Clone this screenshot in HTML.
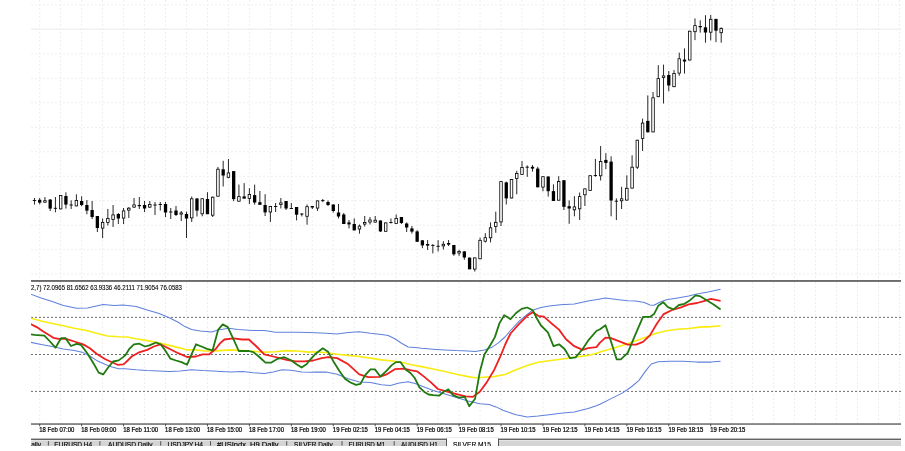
<!DOCTYPE html>
<html><head><meta charset="utf-8"><title>SILVER,M15</title>
<style>html,body{margin:0;padding:0;background:#fff;overflow:hidden}svg{display:block;will-change:transform}text{font-family:"Liberation Sans",sans-serif}</style>
</head><body>
<svg width="905" height="451" viewBox="0 0 905 451" font-family="Liberation Sans, sans-serif">
<defs><clipPath id="cp"><rect x="31" y="282" width="870" height="141"/></clipPath>
<clipPath id="cptab"><rect x="31" y="440" width="870" height="6"/></clipPath></defs>
<path d="M39.7 0V278M39.7 282V423M60.67 0V278M60.67 282V423M81.64 0V278M81.64 282V423M102.61 0V278M102.61 282V423M123.58 0V278M123.58 282V423M144.55 0V278M144.55 282V423M165.52 0V278M165.52 282V423M186.49 0V278M186.49 282V423M207.46 0V278M207.46 282V423M228.43 0V278M228.43 282V423M249.39 0V278M249.39 282V423M270.36 0V278M270.36 282V423M291.33 0V278M291.33 282V423M312.3 0V278M312.3 282V423M333.27 0V278M333.27 282V423M354.24 0V278M354.24 282V423M375.21 0V278M375.21 282V423M396.18 0V278M396.18 282V423M417.15 0V278M417.15 282V423M438.12 0V278M438.12 282V423M459.09 0V278M459.09 282V423M480.06 0V278M480.06 282V423M501.02 0V278M501.02 282V423M521.99 0V278M521.99 282V423M542.96 0V278M542.96 282V423M563.93 0V278M563.93 282V423M584.9 0V278M584.9 282V423M605.87 0V278M605.87 282V423M626.84 0V278M626.84 282V423M647.81 0V278M647.81 282V423M668.78 0V278M668.78 282V423M689.75 0V278M689.75 282V423M710.72 0V278M710.72 282V423M731.69 0V278M731.69 282V423M752.66 0V278M752.66 282V423M773.62 0V278M773.62 282V423M794.59 0V278M794.59 282V423M815.56 0V278M815.56 282V423M836.53 0V278M836.53 282V423M857.5 0V278M857.5 282V423M878.47 0V278M878.47 282V423M899.44 0V278M899.44 282V423M31 4.95H901M31 29.42H901M31 53.89H901M31 78.36H901M31 102.83H901M31 127.3H901M31 151.77H901M31 176.24H901M31 200.71H901M31 225.18H901M31 249.65H901M31 274.12H901" stroke="#eeeeee" stroke-width="1" stroke-dasharray="2 2" fill="none"/>
<path d="M31 29.1H901" stroke="#f0f0f0" stroke-width="1.4"/>
<path d="M34.46 198V204.6M39.7 198V204.3M44.94 197V202.6M50.19 199V211M55.43 197V212.3M60.67 195V209.3M65.91 192.3V208.6M71.16 200.3V209M76.4 194.3V206.3M81.64 196.3V206.3M86.88 200V214.3M92.13 201V219M97.37 216V232M102.61 218.5V238M107.85 209V225.5M113.09 205V227M118.34 213V224M123.58 208V224M128.82 207V218M134.06 198V208M139.31 197V209M144.55 201V212M149.79 201V208M155.03 202V215M160.28 202V210.5M165.52 202V217M170.76 208V219M176 206V216M181.24 211V221M186.49 211.6V238M191.73 196.5V222M196.97 198V216.5M202.21 198.3V216.3M207.46 192.2V214.2M212.7 196.5V217M217.94 167V196.6M223.18 160.8V186.5M228.43 159V178.3M233.67 171V201.2M238.91 184.6V201.6M244.15 183.1V198.6M249.39 188.2V204M254.64 184.6V204.6M259.88 191V204.8M265.12 194.2V216M270.36 206V222M275.61 203V212M280.85 198V208.5M286.09 201V210M291.33 203V208.5M296.57 207V220.4M301.82 213V216.4M307.06 204.5V224.7M312.3 206V209M317.54 200.5V211M322.79 199V202.2M328.03 200.5V206M333.27 204.5V212.5M338.51 204V218.4M343.76 213V224M349 220V228.4M354.24 218.4V230.4M359.48 224.5V233.7M364.72 216V226.5M369.97 217V224.5M375.21 216V222.6M380.45 220.5V232M385.69 222.5V231.7M390.94 218.5V223.5M396.18 214.5V224M401.42 217V224M406.66 222.5V232M411.91 226V233.6M417.15 230.2V241.8M422.39 240.3V248.2M427.63 240V250M432.87 244.2V253.4M438.12 240.2V251.5M443.36 241.2V249.5M448.6 240V246M453.84 245V255.8M459.09 249.8V255.8M464.33 251.2V259.8M469.57 257.6V269.3M474.81 257.5V271.6M480.06 237.7V259.2M485.3 233.2V242.5M490.54 222.4V242.4M495.78 211.7V232.8M501.02 181.2V226M506.27 181.6V204.5M511.51 179.1V198.4M516.75 170.8V194.3M521.99 161.1V175M527.24 165.4V176.9M532.48 165V171.6M537.72 166.8V187.3M542.96 176.3V191.3M548.21 176.5V196.6M553.45 184.3V201M558.69 176.2V200.6M563.93 180.2V210M569.17 200.4V223.8M574.42 196.2V216.3M579.66 192.5V220M584.9 188.5V206M590.14 175.3V190.8M595.39 158.9V176.8M600.63 146V180.5M605.87 153.2V169.1M611.11 156.3V216.3M616.36 198.4V220.1M621.6 186.8V209M626.84 175.3V200.5M632.08 155.3V188.5M637.32 139.8V169M642.57 118.6V151M647.81 95.4V132.3M653.05 92V132.3M658.29 65.2V97.1M663.54 64.6V103.5M668.78 71V91.3M674.02 70.1V87.1M679.26 52.6V75.7M684.51 48.4V73.6M689.75 30.8V60.4M694.99 18.4V40.1M700.23 20.3V32.6M705.47 15.2V42.7M710.72 14.9V40.4M715.96 18.9V42.2M721.2 27.3V42.7" stroke="#000" stroke-width="0.85" fill="none"/>
<path d="M32.81 200.5H36.11M53.78 208.3H57.08M69.51 205H72.81M153.38 205H156.68M158.63 204.5H161.93M169.11 212H172.41M273.96 206.5H277.26M289.68 208.5H292.98M300.17 214.1H303.47M321.14 200.6H324.44M389.29 222.5H392.59M431.22 245.4H434.52M436.47 246.3H439.77M525.59 167.2H528.89M593.74 175.5H597.04M614.71 201.2H618.01" stroke="#000" stroke-width="0.9" fill="none"/>
<g fill="#000"><rect x="38.05" y="199.8" width="3.3" height="2.8"/><rect x="48.54" y="199.6" width="3.3" height="9"/><rect x="64.26" y="196" width="3.3" height="8.6"/><rect x="79.99" y="201" width="3.3" height="4"/><rect x="85.23" y="205" width="3.3" height="5.6"/><rect x="90.48" y="210" width="3.3" height="7"/><rect x="95.72" y="216" width="3.3" height="12"/><rect x="116.69" y="214" width="3.3" height="4.5"/><rect x="137.66" y="205" width="3.3" height="1.2"/><rect x="142.9" y="205" width="3.3" height="3.5"/><rect x="163.87" y="204" width="3.3" height="8.5"/><rect x="174.35" y="210.5" width="3.3" height="4.5"/><rect x="184.84" y="214" width="3.3" height="4.5"/><rect x="195.32" y="198.5" width="3.3" height="12.1"/><rect x="205.81" y="199" width="3.3" height="15.2"/><rect x="221.53" y="169.3" width="3.3" height="6.2"/><rect x="232.02" y="171.1" width="3.3" height="28"/><rect x="242.5" y="196.4" width="3.3" height="2.2"/><rect x="252.99" y="195.1" width="3.3" height="7.4"/><rect x="258.23" y="202.2" width="3.3" height="2.6"/><rect x="263.47" y="205" width="3.3" height="7.4"/><rect x="284.44" y="201" width="3.3" height="7.5"/><rect x="294.93" y="207" width="3.3" height="7.7"/><rect x="310.65" y="206" width="3.3" height="1.5"/><rect x="326.38" y="202" width="3.3" height="3"/><rect x="331.62" y="204.5" width="3.3" height="6.5"/><rect x="336.86" y="212.5" width="3.3" height="4"/><rect x="342.11" y="214.5" width="3.3" height="9.5"/><rect x="347.35" y="222.4" width="3.3" height="2"/><rect x="352.59" y="224" width="3.3" height="6.4"/><rect x="378.8" y="220.5" width="3.3" height="10.9"/><rect x="399.77" y="217" width="3.3" height="6"/><rect x="405.01" y="223.5" width="3.3" height="4"/><rect x="410.26" y="228.4" width="3.3" height="3.2"/><rect x="415.5" y="231.4" width="3.3" height="10.4"/><rect x="420.74" y="240.3" width="3.3" height="5.1"/><rect x="425.98" y="244" width="3.3" height="1.6"/><rect x="446.95" y="243" width="3.3" height="1.6"/><rect x="452.19" y="245" width="3.3" height="9.3"/><rect x="462.68" y="251.4" width="3.3" height="6.1"/><rect x="467.92" y="257.6" width="3.3" height="11.7"/><rect x="504.62" y="182.4" width="3.3" height="16"/><rect x="530.83" y="166.8" width="3.3" height="1.8"/><rect x="536.07" y="168.6" width="3.3" height="18.7"/><rect x="546.56" y="176.5" width="3.3" height="14.7"/><rect x="551.8" y="191.1" width="3.3" height="9.9"/><rect x="562.28" y="180.2" width="3.3" height="26.6"/><rect x="567.52" y="206.2" width="3.3" height="2.3"/><rect x="604.22" y="159.9" width="3.3" height="3"/><rect x="609.46" y="161.6" width="3.3" height="38.9"/><rect x="646.16" y="120.9" width="3.3" height="11.4"/><rect x="667.13" y="75" width="3.3" height="10.5"/><rect x="682.86" y="59.6" width="3.3" height="1.9"/><rect x="698.58" y="26" width="3.3" height="1.3"/><rect x="703.82" y="27.3" width="3.3" height="5.2"/><rect x="714.31" y="18.9" width="3.3" height="11.8"/></g>
<g fill="#fff" stroke="#000" stroke-width="0.8"><rect x="43.69" y="200.7" width="2.5" height="1.5"/><rect x="59.42" y="195.4" width="2.5" height="13.5"/><rect x="75.15" y="200.4" width="2.5" height="5.5"/><rect x="101.36" y="222.4" width="2.5" height="5.7"/><rect x="106.6" y="218.4" width="2.5" height="4.2"/><rect x="111.84" y="214.9" width="2.5" height="4.7"/><rect x="122.33" y="210.9" width="2.5" height="7.2"/><rect x="127.57" y="208.2" width="2.5" height="1.9"/><rect x="132.81" y="204.9" width="2.5" height="2.2"/><rect x="148.54" y="204.4" width="2.5" height="2.7"/><rect x="179.99" y="212.9" width="2.5" height="1.2"/><rect x="190.48" y="198.8" width="2.5" height="19.1"/><rect x="200.96" y="198.7" width="2.5" height="15.1"/><rect x="211.45" y="197.2" width="2.5" height="18"/><rect x="216.69" y="169.2" width="2.5" height="27"/><rect x="227.18" y="172.9" width="2.5" height="4.4"/><rect x="237.66" y="196.6" width="2.5" height="4.6"/><rect x="248.14" y="194.4" width="2.5" height="4.2"/><rect x="269.11" y="206.4" width="2.5" height="5.6"/><rect x="279.6" y="202.9" width="2.5" height="1.7"/><rect x="305.81" y="206.7" width="2.5" height="9.6"/><rect x="316.29" y="200.9" width="2.5" height="7.2"/><rect x="358.23" y="226.1" width="2.5" height="2.9"/><rect x="363.47" y="222.4" width="2.5" height="1.7"/><rect x="368.72" y="220" width="2.5" height="2"/><rect x="373.96" y="220.2" width="2.5" height="1.9"/><rect x="384.44" y="222.9" width="2.5" height="8.4"/><rect x="394.93" y="218.4" width="2.5" height="5.2"/><rect x="442.11" y="244.3" width="2.5" height="1.6"/><rect x="457.84" y="251.4" width="2.5" height="1.6"/><rect x="473.56" y="257.9" width="2.5" height="11.2"/><rect x="478.81" y="240.3" width="2.5" height="18.5"/><rect x="484.05" y="237.7" width="2.5" height="3.5"/><rect x="489.29" y="227.8" width="2.5" height="10"/><rect x="494.53" y="222.3" width="2.5" height="4.1"/><rect x="499.77" y="181.6" width="2.5" height="40.3"/><rect x="510.26" y="179.5" width="2.5" height="18.5"/><rect x="515.5" y="173.5" width="2.5" height="5"/><rect x="520.74" y="167.4" width="2.5" height="7.2"/><rect x="541.71" y="176.7" width="2.5" height="10.4"/><rect x="557.44" y="181.5" width="2.5" height="18.7"/><rect x="573.17" y="206.9" width="2.5" height="2.9"/><rect x="578.41" y="196.6" width="2.5" height="12.2"/><rect x="583.65" y="188.9" width="2.5" height="5.9"/><rect x="588.89" y="175.7" width="2.5" height="14.7"/><rect x="599.38" y="161.5" width="2.5" height="14.3"/><rect x="620.35" y="198.8" width="2.5" height="2"/><rect x="625.59" y="188.3" width="2.5" height="11.8"/><rect x="630.83" y="167.2" width="2.5" height="20.9"/><rect x="636.07" y="140.2" width="2.5" height="27"/><rect x="641.32" y="123.1" width="2.5" height="15.4"/><rect x="651.8" y="97.8" width="2.5" height="34.1"/><rect x="657.04" y="78.6" width="2.5" height="18.1"/><rect x="662.29" y="75.9" width="2.5" height="1.6"/><rect x="672.77" y="73.4" width="2.5" height="13.3"/><rect x="678.01" y="58.8" width="2.5" height="14.3"/><rect x="688.5" y="31.2" width="2.5" height="28.8"/><rect x="693.74" y="25.6" width="2.5" height="6.1"/><rect x="709.47" y="19.3" width="2.5" height="12.9"/><rect x="719.95" y="28.4" width="2.5" height="4.3"/></g>
<rect x="31" y="280" width="870" height="1.9" fill="#6b6b6b"/>
<path d="M31 317.4H901M31 354.5H901M31 391.4H901" stroke="#6e6e6e" stroke-width="1" stroke-dasharray="2 2" fill="none"/>
<g clip-path="url(#cp)">
<path d="M30 293.9 41.1 297.9 52.2 301.6 63.3 305.4 76.6 308.3 87.6 308.1 96.5 306.1 103.2 304.5 114.3 305.4 123.1 305 136.1 306.6 147.2 310 158.3 313.3 169.3 317.7 178.2 322.2 184.9 326.6 191.5 329.5 200.4 331 211.5 332.1 218.1 329.9 228.9 328.2 237.7 329.5 253.3 330.4 264.3 330.6 275.4 332.2 286.5 332.2 297.6 332.2 308.7 332.6 326.1 333.3 337.2 333.9 348.3 332.6 359.3 331.7 370.4 333.3 381.5 334.4 388.2 335.5 394.8 338.8 401.5 343.2 408.1 347 415 347.4 421.6 348.3 433.3 349.2 444.9 349.9 456.5 350.6 468.1 351 475.1 351.5 484.4 349.9 491.4 347.6 498.4 342.9 505 337 510.5 330.5 518.9 321.3 527.2 314.4 532.7 310.2 541 307.5 549.3 306.1 560.4 304.7 574.3 304.1 588.1 301.1 600 298.9 605.5 298 616.6 299.4 627.7 300.8 636 301.1 644.3 302.5 649.9 305 654 305.2 659.6 302.2 666.5 299.7 677.6 298 688.7 296.1 697 293.9 708.1 291.9 720.6 289.2" stroke="#5f80dc" stroke-width="1.05" fill="none" stroke-linejoin="round" stroke-opacity="1"/>
<path d="M30 342.2 41.1 344.4 52.2 346.6 63.3 348.9 74.3 350.4 83.2 352.6 89.9 356 96.5 360.4 105.4 364.4 112 367 118.7 368.8 125 368.7 136.1 369.8 147.2 370.5 158.3 370.9 169.3 371.4 180.4 370.9 191.5 369.8 202.6 370.5 213.7 370.9 220 371.4 231.1 372.1 242.2 371.4 253.3 372.7 264.3 373.6 273.2 372.1 282.1 369.8 291 370.3 302 372.1 310.9 372.3 315 372.1 326.1 372.1 337.2 374.3 348.3 378.7 359.3 382 370.4 382.5 381.5 384.7 390.4 385.4 399.3 383.1 408.1 381.8 415 383.5 421.6 385.9 433.3 390.6 444.9 394.1 456.5 397.6 468.1 401 479.8 403.8 489.1 404.5 496 406.9 503 410.3 510 412.7 516.1 414.7 527.2 416.9 538.2 416 549.3 414.7 560.4 413.3 574.3 411.9 588.1 408.6 596.4 405.8 600 404.3 611.1 398.6 622.2 393.1 630.5 387.5 638.8 380.6 645.7 370.9 651.3 364 658.2 361.8 669.3 361.2 683.1 361.2 697 362.1 710.9 362.1 720.6 361.2" stroke="#5f80dc" stroke-width="1.05" fill="none" stroke-linejoin="round" stroke-opacity="1"/>
<path d="M30 318 41.1 321 52.2 323.5 63.3 325.8 74.3 328.2 85.4 330.3 96.5 333.3 107.6 336 118.7 336.7 127 337 136.1 338.8 147.2 340.6 158.3 342.8 169.3 345.4 180.4 348.1 187.1 349.9 196 349.9 204.8 351 213.7 351 220 350.6 231.1 349.9 242.2 350.6 253.3 351.4 264.3 352.1 275.4 351.7 286.5 350.6 297.6 351 308.7 352.1 315 351.7 326.1 352.8 337.2 354.3 348.3 355.4 359.3 356.5 370.4 358.1 381.5 359.9 392.6 361 403.7 362.7 410 364.5 421.6 366.6 433.3 369 444.9 371.5 456.5 374.3 468.1 376.6 475.1 377.8 484.4 377.3 493.7 376.6 505 374.5 516.1 369.8 527.2 365.6 538.2 362.3 549.3 360.7 560.4 359.3 574.3 357.3 588.1 355.4 596.4 353.2 600 352.1 611.1 348.7 622.2 345.4 633.3 341.8 644.3 337.7 655.4 333.5 666.5 330.7 677.6 329.3 688.7 328.5 699.8 327.1 710.9 326.6 720.6 325.7" stroke="#f8ec10" stroke-width="1.6" fill="none" stroke-linejoin="round" stroke-opacity="1"/>
<path d="M30 323.8 36.7 327.1 43.3 331.6 52.2 337.1 54.4 338.2 58.8 338.9 65.5 338.7 74.3 341.5 83.2 344.4 89.9 348.2 96.5 353.7 105.4 359.3 112 362.2 117.6 364.8 123.1 364.4 125 363.2 131.7 356.5 138.3 352.7 147.2 349.9 153.8 346.5 160.5 344.3 169.3 348.8 178.2 353.2 187.1 357 196 356.5 202.6 354.3 209.3 354.3 215.9 348.8 220 343.4 224.4 339.5 233.3 338.4 242.2 339.5 248.8 339.5 255.5 345.5 264.3 354.3 273.2 356.5 279.9 358.1 286.5 359.9 295.4 361.4 304.3 361.4 313.1 360.5 321.7 358.1 328.3 357.2 337.2 358.1 348.3 364.3 359.3 374.3 368.2 377.2 379.3 376.9 386 374.7 394.8 369.2 403.7 368.7 410.3 370.2 417 371.3 424 376.6 430.9 382.4 437.9 389 447.2 391.7 456.5 394.1 465.8 396.4 472.8 396.9 479.8 391.7 486.7 382.4 493.7 370.8 500.7 355.7 505.2 344.5 510.5 333.5 518.9 324.1 527.2 315.8 532.7 312.2 538.2 315.8 543.8 316.6 550.7 322.7 559 329.6 566 339.3 574.3 346.2 582.6 349.8 588.1 348.2 596.4 347.1 600 342.6 605.5 337.7 611.1 338.2 619.4 341.3 627.7 344.6 636 344.6 643 341.8 649.9 335.4 656.8 323.8 663.7 314.1 672.1 310 680.4 307.7 688.7 304.4 697 303 703.9 301.1 710.9 298.9 720.6 300.8" stroke="#ee2020" stroke-width="1.8" fill="none" stroke-linejoin="round" stroke-opacity="1"/>
<path d="M30 334.2 34.4 334.9 44.4 335.6 50 341.5 55.5 347.7 61 338.2 65.5 338.2 71 346 76.6 343.8 81 344.9 87.6 353.7 94.3 364.8 98.7 372.6 103.2 374.4 107.6 368.2 113.1 361.5 118.7 360.4 123.1 357.1 125.5 355 129.4 348.8 133.9 344.3 139.4 343.7 145 346.5 149.4 345.4 156 342.5 160.5 344.3 164.9 349.9 170.5 358.7 176 360.5 181.5 362.1 187.1 364.7 191.5 354.3 196 344.3 201.5 346.5 207 348.8 212.6 350.3 218.1 329.9 222.7 324.4 227.8 327.1 233.3 338.8 238.8 351 248.8 351 253.3 352.1 258.8 356.5 265.5 362.7 271 362.7 277.6 358.8 284.3 357.2 291 360.3 296.5 364.3 301.6 367.6 306.5 364.3 310.9 358.8 315 354.3 322.8 348.3 328.3 352.1 333.8 362.1 339.4 371 344.9 378.7 350.5 382.5 356 384.9 360.5 383.8 364.9 375.4 370.4 369.4 374.9 369.4 380.4 376.5 386 371.4 391.5 365.4 395.9 362.1 400.4 362.1 405.9 369.8 410.5 373 414.7 378 419.3 387.1 424 391.7 428.6 394.5 433.3 395.2 439.1 395.7 443.7 391.7 448.4 389.4 453 395.2 458.8 397.6 464.7 396.9 469.3 406.2 475.1 398.7 479.8 372 484.4 354.5 490.2 345.2 494.9 337.1 499.5 323.1 504.2 315.2 507.7 317.3 510.5 319.2 516.1 313 521.6 308.9 527.2 307.5 532.7 310.2 536.9 318.5 541 325.5 547.9 332.4 553.5 346.2 559 344.3 564.6 349 570.1 358.2 575.6 357.3 582.6 349 588.1 340.7 596.4 331 600 329.3 605.5 325.2 611.1 341.8 616.6 359.3 620.8 359.3 627.7 352.9 634.6 336.3 643 316.9 649.9 316.9 654 314.1 658.2 305.8 663.2 302.2 667.9 307.2 673.4 309.4 679 305 684.5 303.8 690.1 300.2 695.6 295.3 699.8 296.1 706.7 300.2 713.6 304.4 720.6 309.4" stroke="#207a10" stroke-width="1.8" fill="none" stroke-linejoin="round" stroke-opacity="1"/>
</g>
<text x="31" y="290" font-size="6.6" textLength="151" lengthAdjust="spacingAndGlyphs" fill="#000" stroke="#000" stroke-width="0.1">2,7) 72.0965 81.6562 63.9336 46.2111 71.9054 76.0583</text>
<rect x="31" y="423.2" width="870" height="1.7" fill="#7a7a7a"/>
<path d="M39.7 424V426.3M81.64 424V426.3M123.58 424V426.3M165.52 424V426.3M207.46 424V426.3M249.39 424V426.3M291.33 424V426.3M333.27 424V426.3M375.21 424V426.3M417.15 424V426.3M459.09 424V426.3M501.02 424V426.3M542.96 424V426.3M584.9 424V426.3M626.84 424V426.3M668.78 424V426.3M710.72 424V426.3" stroke="#444" stroke-width="0.9"/>
<g font-size="6.4" fill="#000" stroke="#000" stroke-width="0.22"><text x="39.3" y="431.9" textLength="35" lengthAdjust="spacingAndGlyphs">18 Feb 07:00</text><text x="81.24" y="431.9" textLength="35" lengthAdjust="spacingAndGlyphs">18 Feb 09:00</text><text x="123.18" y="431.9" textLength="35" lengthAdjust="spacingAndGlyphs">18 Feb 11:00</text><text x="165.12" y="431.9" textLength="35" lengthAdjust="spacingAndGlyphs">18 Feb 13:00</text><text x="207.06" y="431.9" textLength="35" lengthAdjust="spacingAndGlyphs">18 Feb 15:00</text><text x="248.99" y="431.9" textLength="35" lengthAdjust="spacingAndGlyphs">18 Feb 17:00</text><text x="290.93" y="431.9" textLength="35" lengthAdjust="spacingAndGlyphs">18 Feb 19:00</text><text x="332.87" y="431.9" textLength="35" lengthAdjust="spacingAndGlyphs">19 Feb 02:15</text><text x="374.81" y="431.9" textLength="35" lengthAdjust="spacingAndGlyphs">19 Feb 04:15</text><text x="416.75" y="431.9" textLength="35" lengthAdjust="spacingAndGlyphs">19 Feb 06:15</text><text x="458.69" y="431.9" textLength="35" lengthAdjust="spacingAndGlyphs">19 Feb 08:15</text><text x="500.62" y="431.9" textLength="35" lengthAdjust="spacingAndGlyphs">19 Feb 10:15</text><text x="542.56" y="431.9" textLength="35" lengthAdjust="spacingAndGlyphs">19 Feb 12:15</text><text x="584.5" y="431.9" textLength="35" lengthAdjust="spacingAndGlyphs">19 Feb 14:15</text><text x="626.44" y="431.9" textLength="35" lengthAdjust="spacingAndGlyphs">19 Feb 16:15</text><text x="668.38" y="431.9" textLength="35" lengthAdjust="spacingAndGlyphs">19 Feb 18:15</text><text x="710.32" y="431.9" textLength="35" lengthAdjust="spacingAndGlyphs">19 Feb 20:15</text></g>
<rect x="31" y="438.6" width="415.5" height="1.3" fill="#555"/>
<rect x="498.5" y="438.6" width="402.5" height="1.3" fill="#555"/>
<rect x="31" y="440.4" width="415.5" height="5.6" fill="#d4d4d4"/>
<rect x="498.5" y="440.4" width="402.5" height="5.6" fill="#d4d4d4"/>
<rect x="446.5" y="437.3" width="52" height="0.8" fill="#e6e6e6"/>
<path d="M446.5 438.5V446M498.5 438.5V446" stroke="#555" stroke-width="1"/>
<path d="M48.4 441.2V445.6M99.9 441.2V445.6M160.7 441.2V445.6M210.5 441.2V445.6M286.7 441.2V445.6M342 441.2V445.6M394.2 441.2V445.6" stroke="#444" stroke-width="0.9"/>
<g font-size="6.6" fill="#000" stroke="#000" stroke-width="0.15" clip-path="url(#cptab)"><text x="26.4" y="447">Daily</text><text x="54.3" y="447" textLength="37.9" lengthAdjust="spacingAndGlyphs">EURUSD,H4</text><text x="108.1" y="447" textLength="44.4" lengthAdjust="spacingAndGlyphs">AUDUSD,Daily</text><text x="167.4" y="447" textLength="35.6" lengthAdjust="spacingAndGlyphs">USDJPY,H4</text><text x="217.1" y="447" textLength="61.4" lengthAdjust="spacingAndGlyphs">#USIndx_H9,Daily</text><text x="294.1" y="447" textLength="38.5" lengthAdjust="spacingAndGlyphs">SILVER,Daily</text><text x="348.6" y="447" textLength="36.6" lengthAdjust="spacingAndGlyphs">EURUSD,M1</text><text x="401.1" y="447" textLength="36.7" lengthAdjust="spacingAndGlyphs">AUDUSD,H1</text><text x="453" y="447" textLength="38" lengthAdjust="spacingAndGlyphs">SILVER,M15</text></g>
</svg>
</body></html>
